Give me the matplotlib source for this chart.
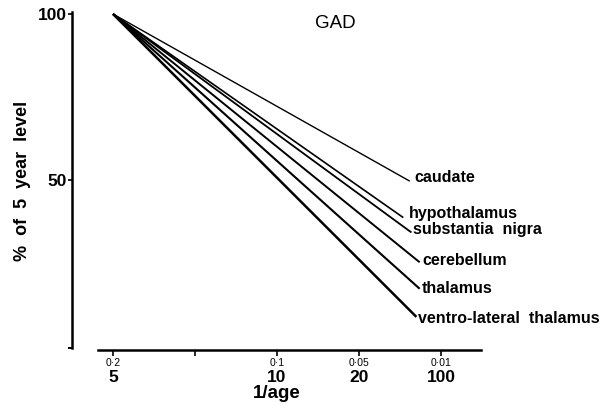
import matplotlib
matplotlib.use("Agg")
import matplotlib.pyplot as plt
import matplotlib.transforms as mtransforms

plt.rcParams['font.family'] = ['Liberation Sans', 'DejaVu Sans']

# GAD activity relative to the 5 year level, plotted against 1/age
regions = ['caudate', 'hypothalamus', 'substantia  nigra', 'cerebellum',
           'thalamus', 'ventro-lateral  thalamus']
start_inv_age = 0.2
start_level = 100
end_inv_age = [0.019, 0.023, 0.018, 0.013, 0.013, 0.015]
end_level = [49.5, 38.5, 34, 25, 17, 8.5]
line_widths = [1.0, 1.2, 1.3, 1.4, 1.5, 1.8]
# label nudges (points) from the end of each line
label_offsets = [(3.6, 2.5), (4.3, 3), (1, 2.5), (2, 1), (1.4, 0.5), (1.4, -1)]

# x ticks: 1/age on the small row, age on the bold row
tick_pos = [0.2, 0.15, 0.1, 0.05, 0.0]
tick_inv = ['0·2', '', '0·1', '0·05', '0·01']
tick_age = ['5', '', '10', '20', '100']

W, H = 606, 405
fig = plt.figure(figsize=(W / 100, H / 100), dpi=100)
ax = fig.add_axes([72 / W, 1 - 350 / H, (481 - 72) / W, (350 - 14) / H])

for x1, y1, lw in zip(end_inv_age, end_level, line_widths):
    ax.plot([start_inv_age, x1], [start_level, y1], color='black', lw=lw,
            solid_capstyle='butt', clip_on=False)

for name, x1, y1, (dx, dy) in zip(regions, end_inv_age, end_level, label_offsets):
    ax.annotate(name, (x1, y1), xytext=(dx, dy), textcoords='offset points',
                ha='left', va='center', fontsize=11.5, fontweight='bold')

ax.set_xlim(0.225, -0.0244)
ax.set_ylim(-1.5, 100)

for s in ['top', 'right']:
    ax.spines[s].set_visible(False)
ax.spines['left'].set_linewidth(1.8)
ax.spines['bottom'].set_linewidth(1.8)
ax.spines['left'].set_bounds(-0.9, 100.5)
ax.spines['bottom'].set_bounds(0.2091, -0.0244)

ax.set_yticks([50, 100])
ax.set_yticklabels(['50', '100'], fontsize=12.5, fontweight='bold')
ax.set_yticks([-0.9], minor=True)
ax.tick_params(axis='y', which='major', length=3, width=1.2, pad=1)
ax.tick_params(axis='y', which='minor', length=3, width=1.4)

ax.set_xticks(tick_pos)
ax.set_xticklabels(tick_inv, fontsize=7.5)
ax.tick_params(axis='x', length=4, width=1.2, pad=1.5)

trans = mtransforms.blended_transform_factory(ax.transData, fig.transFigure)
for x, lab in zip(tick_pos, tick_age):
    ax.text(x, 1 - 377 / H, lab, transform=trans, ha='center', va='center',
            fontsize=12.5, fontweight='bold')

fig.text(277 / W, 1 - 393 / H, '1/age', ha='center', va='center',
         fontsize=13.5, fontweight='bold')
fig.text(23 / W, 1 - 181 / H, '%  of  5  year  level', rotation=90,
         ha='center', va='center', fontsize=13, fontweight='bold')
fig.text(335 / W, 1 - 23 / H, 'GAD', ha='center', va='center', fontsize=13.5)

fig.savefig('out.png', dpi=100)
